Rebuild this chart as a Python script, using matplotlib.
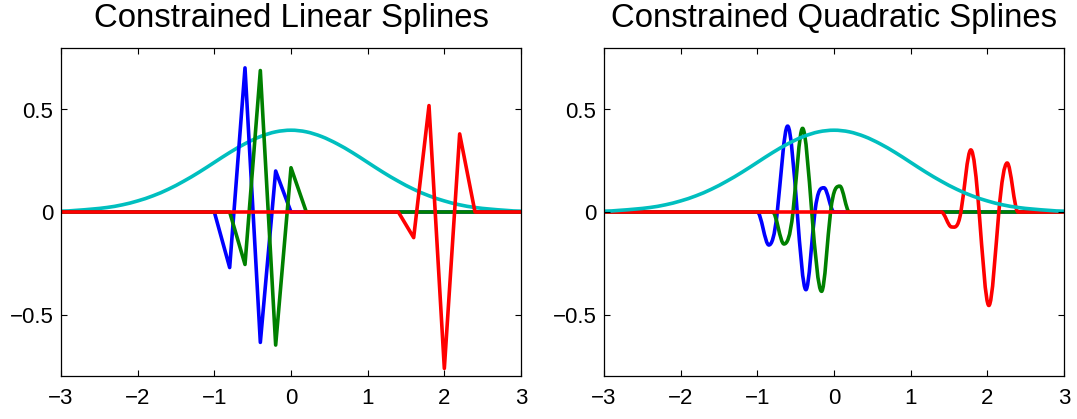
import numpy as np
import matplotlib
matplotlib.use("Agg")
import matplotlib.pyplot as plt
from matplotlib.path import Path
from matplotlib.patches import PathPatch

plt.rcParams['font.family'] = ['Liberation Sans', 'DejaVu Sans']

# ---- data -------------------------------------------------------------
XMIN, XMAX = -3.0, 3.0

# standard normal density, sampled every 0.2
pdf_x = [-3.0, -2.8, -2.6, -2.4, -2.2, -2.0, -1.8, -1.6, -1.4, -1.2, -1.0,
         -0.8, -0.6, -0.4, -0.2, 0.0, 0.2, 0.4, 0.6, 0.8, 1.0, 1.2, 1.4,
         1.6, 1.8, 2.0, 2.2, 2.4, 2.6, 2.8, 3.0]
pdf_y = [0.004, 0.008, 0.014, 0.022, 0.035, 0.054, 0.079, 0.111, 0.150,
         0.194, 0.242, 0.290, 0.333, 0.368, 0.391, 0.399, 0.391, 0.368,
         0.333, 0.290, 0.242, 0.194, 0.150, 0.111, 0.079, 0.054, 0.035,
         0.022, 0.014, 0.008, 0.004]

# constrained linear splines (knot positions and values)
lin_blue_x = [-1.0, -0.8, -0.6, -0.4, -0.2, 0.0]
lin_blue_y = [0.0, -0.271, 0.703, -0.636, 0.200, 0.0]
lin_green_x = [-0.8, -0.6, -0.4, -0.2, 0.0, 0.2]
lin_green_y = [0.0, -0.256, 0.690, -0.649, 0.216, 0.0]
lin_red_x = [1.4, 1.6, 1.8, 2.0, 2.2, 2.4]
lin_red_y = [0.0, -0.125, 0.519, -0.763, 0.381, 0.0]

# constrained quadratic splines (ends, extrema and zero crossings)
quad_blue_x = [-1.0, -0.85, -0.74, -0.605, -0.48, -0.366, -0.249, -0.13, 0.0]
quad_blue_y = [0.0, -0.161, 0.0, 0.419, 0.0, -0.379, 0.0, 0.118, 0.0]
quad_green_x = [-0.8, -0.653, -0.535, -0.41, -0.29, -0.162, -0.045, 0.077, 0.2]
quad_green_y = [0.0, -0.156, 0.0, 0.408, 0.0, -0.387, 0.0, 0.126, 0.0]
quad_red_x = [1.4, 1.533, 1.655, 1.785, 1.893, 2.02, 2.15, 2.259, 2.4]
quad_red_y = [0.0, -0.073, 0.0, 0.303, 0.0, -0.456, 0.0, 0.239, 0.0]

titles = ["Constrained Linear Splines", "Constrained Quadratic Splines"]
xticks = [-3, -2, -1, 0, 1, 2, 3]
yticks = [-0.5, 0, 0.5]
ytick_labels = ["\u22120.5", "0", "0.5"]
xtick_labels = ["\u22123", "\u22122", "\u22121", "0", "1", "2", "3"]

BLUE = (0, 0, 1)
GREEN = (0, 0.5, 0)
RED = (1, 0, 0)
CYAN = (0, 0.75, 0.75)
LW = 2.6


def padded(xs, ys):
    """Extend a compactly supported curve with zeros over the full range."""
    return [XMIN] + list(xs) + [XMAX], [0.0] + list(ys) + [0.0]


def smooth_line(ax, xs, ys, color, wave=1.0):
    """Draw a smooth curve through the nodes as cubic Bezier segments."""
    xs = np.asarray(xs, float)
    ys = np.asarray(ys, float)
    n = len(xs)
    m = np.zeros(n)
    for i in range(1, n - 1):
        sl = (ys[i] - ys[i - 1]) / (xs[i] - xs[i - 1])
        sr = (ys[i + 1] - ys[i]) / (xs[i + 1] - xs[i])
        if sl * sr > 0:
            m[i] = wave * (ys[i + 1] - ys[i - 1]) / (xs[i + 1] - xs[i - 1])
    verts = [(xs[0], ys[0])]
    codes = [Path.MOVETO]
    for i in range(n - 1):
        h = xs[i + 1] - xs[i]
        verts += [(xs[i] + h / 3, ys[i] + m[i] * h / 3),
                  (xs[i + 1] - h / 3, ys[i + 1] - m[i + 1] * h / 3),
                  (xs[i + 1], ys[i + 1])]
        codes += [Path.CURVE4] * 3
    ax.add_patch(PathPatch(Path(verts, codes), fill=False, edgecolor=color,
                           linewidth=LW, capstyle='round', joinstyle='round'))


def style_axes(ax, title):
    ax.set_xlim(XMIN, XMAX)
    ax.set_ylim(-0.8, 0.8)
    ax.set_xticks(xticks)
    ax.set_xticklabels(xtick_labels)
    ax.set_yticks(yticks)
    ax.set_yticklabels(ytick_labels)
    ax.tick_params(direction='in', top=True, right=True, length=4,
                   width=0.8, labelsize=16)
    ax.tick_params(axis='x', pad=8.5)
    ax.tick_params(axis='y', pad=5.5)
    for sp in ax.spines.values():
        sp.set_linewidth(0.9)
    ax.set_title(title, fontsize=23.7, pad=15)


fig = plt.figure(figsize=(10.77, 4.19), dpi=100)
ax1 = fig.add_axes([61 / 1077, 43 / 419, 460 / 1077, 328 / 419])
ax2 = fig.add_axes([604 / 1077, 43 / 419, 460 / 1077, 328 / 419])

# linear splines
for xs, ys, c in [(lin_blue_x, lin_blue_y, BLUE),
                  (lin_green_x, lin_green_y, GREEN),
                  (lin_red_x, lin_red_y, RED)]:
    px, py = padded(xs, ys)
    ax1.plot(px, py, color=c, linewidth=LW)
smooth_line(ax1, pdf_x, pdf_y, CYAN)

# quadratic splines
for xs, ys, c in [(quad_blue_x, quad_blue_y, BLUE),
                  (quad_green_x, quad_green_y, GREEN),
                  (quad_red_x, quad_red_y, RED)]:
    px, py = padded(xs, ys)
    smooth_line(ax2, px, py, c, wave=1.45)
smooth_line(ax2, pdf_x, pdf_y, CYAN)

style_axes(ax1, titles[0])
style_axes(ax2, titles[1])

fig.savefig("out.png", dpi=100)
